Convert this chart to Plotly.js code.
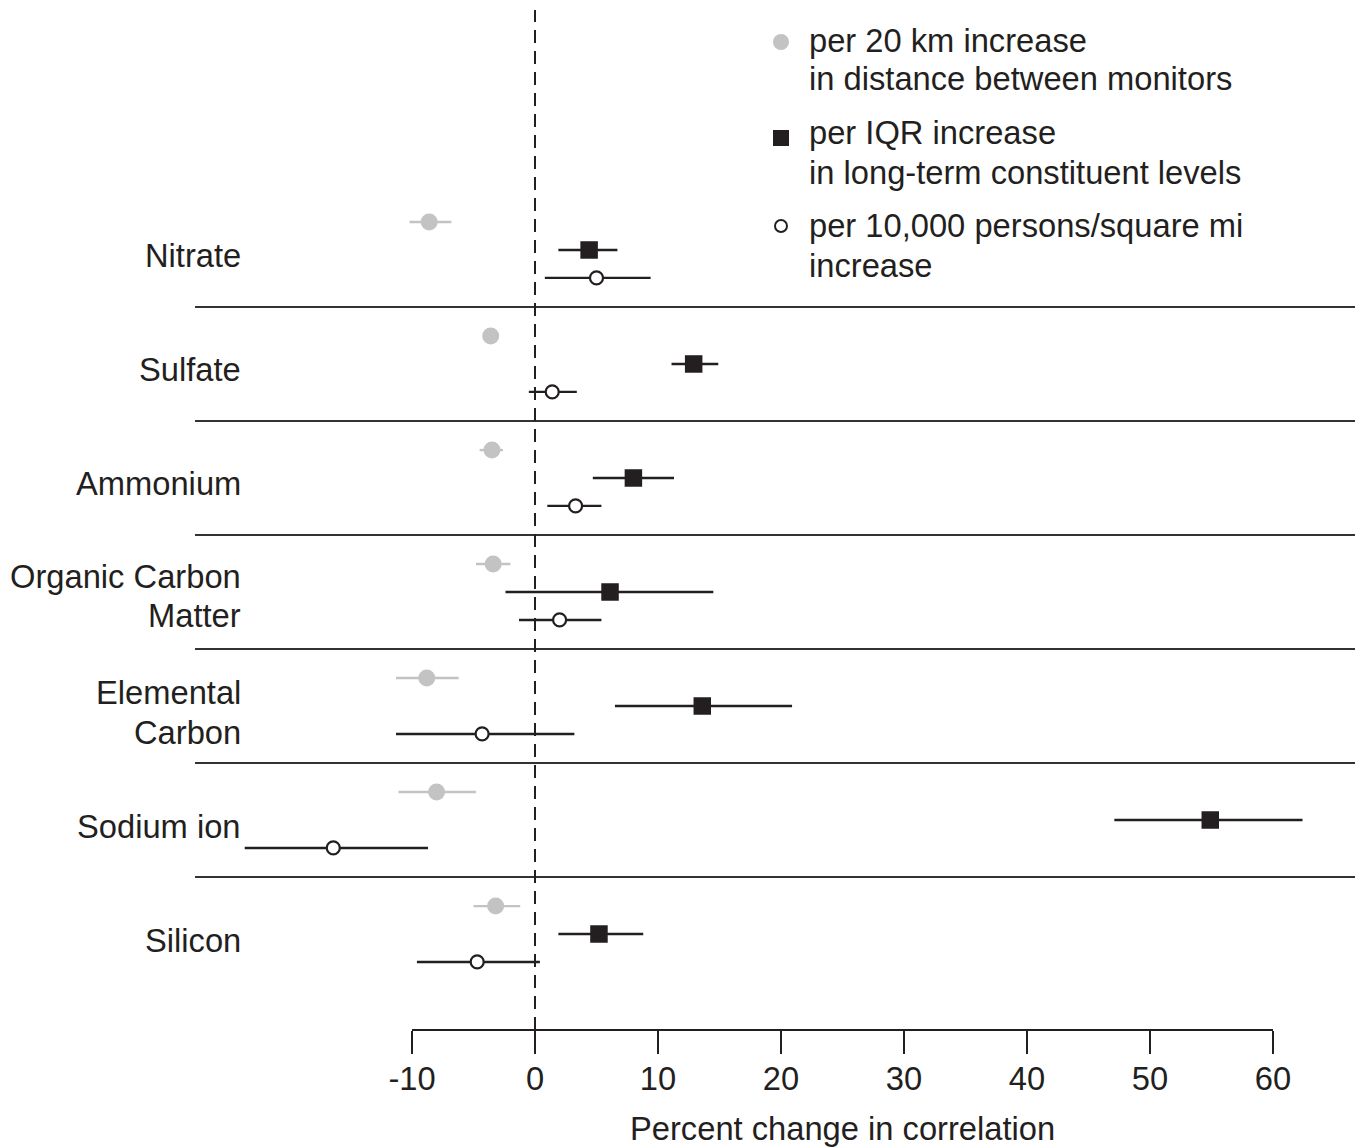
<!DOCTYPE html>
<html>
<head>
<meta charset="utf-8">
<script src="https://cdn.plot.ly/plotly-3.0.1.min.js"></script>
<style>html,body{margin:0;padding:0;background:#fff;}#chart{width:1362px;height:1148px;}</style>
</head>
<body>
<div id="chart"></div>
<script>
// ---- Data (percent change in correlation, estimate and 95% CI) ----
const categories = ["Nitrate", "Sulfate", "Ammonium", "Organic Carbon Matter", "Elemental Carbon", "Sodium ion", "Silicon"];
const categoryLines = [["Nitrate"], ["Sulfate"], ["Ammonium"], ["Organic Carbon", "Matter"], ["Elemental", "Carbon"], ["Sodium ion"], ["Silicon"]];

// per 20 km increase in distance between monitors
const distEst   = [-8.6, -3.6, -3.5, -3.4, -8.8, -8.0, -3.2];
const distLow   = [-10.2, -4.0, -4.5, -4.8, -11.3, -11.1, -5.0];
const distHigh  = [-6.8, -3.2, -2.6, -2.0, -6.2, -4.8, -1.2];

// per IQR increase in long-term constituent levels
const iqrEst    = [4.4, 12.9, 8.0, 6.1, 13.6, 54.9, 5.2];
const iqrLow    = [1.9, 11.1, 4.7, -2.4, 6.5, 47.1, 1.9];
const iqrHigh   = [6.7, 14.9, 11.3, 14.5, 20.9, 62.4, 8.8];

// per 10,000 persons/square mi increase
const popEst    = [5.0, 1.4, 3.3, 2.0, -4.3, -16.4, -4.7];
const popLow    = [0.8, -0.5, 1.0, -1.3, -11.3, -23.6, -9.6];
const popHigh   = [9.4, 3.4, 5.4, 5.4, 3.2, -8.7, 0.4];

const tickValues = [-10, 0, 10, 20, 30, 40, 50, 60];
const tickLabels = ["-10", "0", "10", "20", "30", "40", "50", "60"];
const xTitle = "Percent change in correlation";
const legendLines = [
  ["per 20 km increase", "in distance between monitors"],
  ["per IQR increase", "in long-term constituent levels"],
  ["per 10,000 persons/square mi", "increase"]
];

// ---- Layout constants ----
const W = 1362, H = 1148;
const M = {l: 195, r: 7, t: 10, b: 118};
const plotW = W - M.l - M.r, plotH = H - M.t - M.b;
const FONT = "Liberation Sans, Arial, Helvetica, sans-serif";
const FS = 32.7;
const TXT = "#231f20";
const px2paperX = p => (p - M.l) / plotW;
const px2paperY = p => (H - M.b - p) / plotH;

const idx = categories.map((_, i) => i);
const off = 0.245;

function errs(est, lo, hi) {
  return {
    type: "data", symmetric: false,
    array: est.map((e, i) => hi[i] - e),
    arrayminus: est.map((e, i) => e - lo[i]),
    width: 0, thickness: 2.4
  };
}

const traces = [
  {
    x: distEst, y: idx.map(i => i - off), type: "scatter", mode: "markers",
    marker: {symbol: "circle", size: 17, color: "#c3c3c3"},
    error_x: Object.assign(errs(distEst, distLow, distHigh), {color: "#c3c3c3"}),
    hoverinfo: "x", showlegend: false
  },
  {
    x: iqrEst, y: idx.map(i => i), type: "scatter", mode: "markers",
    marker: {symbol: "square", size: 17.5, color: TXT},
    error_x: Object.assign(errs(iqrEst, iqrLow, iqrHigh), {color: TXT}),
    hoverinfo: "x", showlegend: false
  },
  {
    x: popEst, y: idx.map(i => i + off), type: "scatter", mode: "markers",
    marker: {symbol: "circle", size: 13, color: "#ffffff", line: {color: TXT, width: 2.2}},
    error_x: Object.assign(errs(popEst, popLow, popHigh), {color: TXT}),
    hoverinfo: "x", showlegend: false
  }
];

const shapes = [];
// separators between categories
for (let i = 0; i < categories.length - 1; i++) {
  shapes.push({type: "line", xref: "paper", yref: "y", x0: 0, x1: 1, y0: i + 0.5, y1: i + 0.5,
    line: {color: "#333333", width: 2}, layer: "below"});
}
// dashed zero line
shapes.push({type: "line", xref: "x", yref: "paper", x0: 0, x1: 0, y0: 0, y1: 1,
  line: {color: TXT, width: 2, dash: "13px,8px"}, layer: "below"});
// axis line spanning the tick range
shapes.push({type: "line", xref: "x", yref: "paper", x0: tickValues[0], x1: tickValues[tickValues.length - 1], y0: 0, y1: 0,
  line: {color: TXT, width: 2}});

// legend symbols
const legX = px2paperX(781);
shapes.push({type: "circle", xref: "paper", yref: "paper", xsizemode: "pixel", ysizemode: "pixel",
  xanchor: legX, yanchor: px2paperY(42), x0: -8, x1: 8, y0: -8, y1: 8,
  fillcolor: "#c3c3c3", line: {width: 0}});
shapes.push({type: "rect", xref: "paper", yref: "paper", xsizemode: "pixel", ysizemode: "pixel",
  xanchor: legX, yanchor: px2paperY(138), x0: -8, x1: 8, y0: -8, y1: 8,
  fillcolor: TXT, line: {width: 0}});
shapes.push({type: "circle", xref: "paper", yref: "paper", xsizemode: "pixel", ysizemode: "pixel",
  xanchor: legX, yanchor: px2paperY(226), x0: -6, x1: 6, y0: -6, y1: 6,
  fillcolor: "#ffffff", line: {color: TXT, width: 2}});

const annotations = [];
// category labels
const labelX = px2paperX(243);
categoryLines.forEach((lines, i) => {
  const shifts = lines.length === 1 ? [-6] : (i === 3 ? [15, -24] : [14, -26]);
  lines.forEach((t, k) => {
    annotations.push({text: t, xref: "paper", yref: "y", x: labelX, y: i, xanchor: "right", yanchor: "middle",
      yshift: shifts[k], showarrow: false, font: {family: FONT, size: FS, color: TXT}});
  });
});
// legend text
const legYs = [[40, 79], [132, 172], [225, 265]];
legendLines.forEach((lines, j) => {
  lines.forEach((t, k) => {
    annotations.push({text: t, xref: "paper", yref: "paper", x: px2paperX(807), y: px2paperY(legYs[j][k]),
      xanchor: "left", yanchor: "middle", showarrow: false, font: {family: FONT, size: FS, color: TXT}});
  });
});
// x-axis title centred on the tick span
annotations.push({text: xTitle, xref: "x", yref: "paper", x: (tickValues[0] + tickValues[tickValues.length - 1]) / 2,
  y: px2paperY(1128), xanchor: "center", yanchor: "middle", showarrow: false,
  font: {family: FONT, size: FS, color: TXT}});

const layout = {
  width: W, height: H,
  margin: M,
  paper_bgcolor: "#ffffff", plot_bgcolor: "#ffffff",
  showlegend: false,
  font: {family: FONT, size: FS, color: TXT},
  xaxis: {
    range: [-340 / 12.3, (plotW - 340) / 12.3],
    tickmode: "array", tickvals: tickValues, ticktext: tickLabels,
    ticks: "outside", ticklen: 23, tickwidth: 2, tickcolor: TXT,
    ticklabelstandoff: -3,
    showgrid: false, zeroline: false, showline: false,
    tickfont: {family: FONT, size: FS, color: TXT}
  },
  yaxis: {
    range: [6.842, -2.105],
    showgrid: false, zeroline: false, showline: false, showticklabels: false, ticks: ""
  },
  shapes: shapes,
  annotations: annotations
};

Plotly.newPlot("chart", traces, layout, {displayModeBar: false, staticPlot: true});
</script>
</body>
</html>
